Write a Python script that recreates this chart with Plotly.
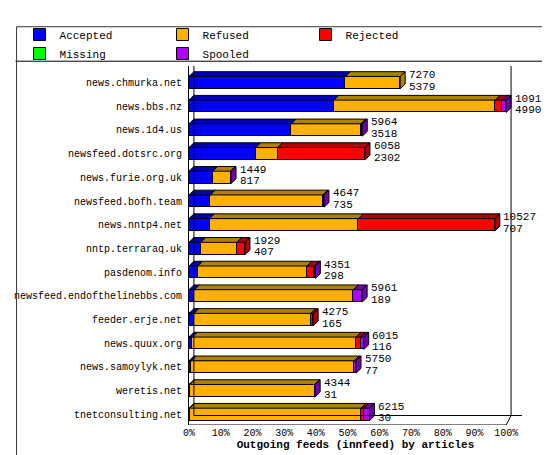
import plotly.graph_objects as go

hosts = ["news.chmurka.net", "news.bbs.nz", "news.1d4.us", "newsfeed.dotsrc.org",
         "news.furie.org.uk", "newsfeed.bofh.team", "news.nntp4.net", "nntp.terraraq.uk",
         "pasdenom.info", "newsfeed.endofthelinebbs.com", "feeder.erje.net",
         "news.quux.org", "news.samoylyk.net", "weretis.net", "tnetconsulting.net"]
accepted = [5379, 4990, 3518, 2302, 817, 735, 707, 407, 298, 189, 165, 116, 77, 31, 30]
refused = [1891, 5550, 2400, 746, 612, 3872, 5120, 1243, 3759, 5470, 4025, 5634, 5608, 4300, 5892]
rejected = [0, 240, 0, 3010, 0, 0, 4700, 279, 250, 0, 85, 160, 0, 0, 90]
missing = [0] * 15
spooled = [0, 134, 46, 0, 20, 40, 0, 0, 44, 302, 0, 105, 65, 13, 203]
totals = [7270, 10914, 5964, 6058, 1449, 4647, 10527, 1929, 4351, 5961, 4275, 6015, 5750, 4344, 6215]

series = [("Accepted", accepted, "#0000ff", "#0000b0"),
          ("Refused", refused, "#ffb000", "#b08000"),
          ("Rejected", rejected, "#ff0000", "#b00000"),
          ("Missing", missing, "#00ff00", "#00b000"),
          ("Spooled", spooled, "#b000ff", "#7000b0")]

scale = 100.0 / max(totals)
ys = list(range(len(hosts)))
H, DX, DY = 0.52, 1.55, 0.2
font = "Liberation Mono"

fig = go.Figure()
for name, vals, col, dark in series:
    fig.add_trace(go.Bar(y=ys, x=[v * scale for v in vals], name=name, orientation="h",
                         width=H, marker=dict(color=col, line=dict(color="black", width=1))))

shapes = []
ann = []
for i in ys:
    x0 = 0.0
    last = None
    top = i - H / 2
    for name, vals, col, dark in series:
        w = vals[i] * scale
        if w <= 0:
            continue
        x1 = x0 + w
        shapes.append(dict(type="path", xref="x", yref="y", fillcolor=dark,
                           line=dict(color="black", width=1),
                           path=f"M{x0},{top} L{x1},{top} L{x1+DX},{top-DY} L{x0+DX},{top-DY} Z"))
        last = (x1, dark)
        x0 = x1
    xe, dark = last
    shapes.append(dict(type="path", xref="x", yref="y", fillcolor=dark,
                       line=dict(color="black", width=1),
                       path=f"M{xe},{i+H/2} L{xe},{top} L{xe+DX},{top-DY} L{xe+DX},{i+H/2-DY} Z"))
    ann.append(dict(x=xe + DX + 0.5, y=i - 0.32, xref="x", yref="y", xanchor="left",
                    yanchor="middle", showarrow=False, text=str(totals[i]),
                    font=dict(family=font, size=11, color="black")))
    ann.append(dict(x=xe + DX + 0.5, y=i + 0.17, xref="x", yref="y", xanchor="left",
                    yanchor="middle", showarrow=False, text=str(accepted[i]),
                    font=dict(family=font, size=11, color="black")))

# back wall and floor
ymin, ymax = -0.7, len(hosts) - 0.55
shapes += [
    dict(type="line", xref="x", yref="y", x0=DX, x1=DX, y0=ymin, y1=ymax - 0.4, line=dict(color="black", width=1)),
    dict(type="line", xref="x", yref="y", x0=100 + DX, x1=100 + DX, y0=ymin, y1=ymax - 0.4, line=dict(color="black", width=1)),
    dict(type="line", xref="x", yref="y", x0=100, x1=100 + DX, y0=ymax, y1=ymax - 0.4, line=dict(color="black", width=1)),
    dict(type="line", xref="x", yref="y", x0=DX, x1=105, y0=ymax - 0.4, y1=ymax - 0.4, line=dict(color="black", width=1)),
    dict(type="line", xref="x", yref="y", x0=0, x1=100, y0=ymax, y1=ymax, line=dict(color="black", width=1)),
    dict(type="line", xref="paper", yref="paper", x0=-176 / 338, x1=1 + 36 / 338, y0=1 + 5 / 375, y1=1 + 5 / 375,
         line=dict(color="black", width=1)),
    dict(type="rect", xref="paper", yref="paper", x0=-175 / 338, x1=1 + 35 / 338, y0=-37 / 375, y1=1 + 41 / 375,
         line=dict(color="#333333", width=1)),
]

fig.update_layout(
    width=550, height=455, barmode="stack", bargap=0,
    margin=dict(l=176, r=36, t=42, b=38, pad=0),
    paper_bgcolor="white", plot_bgcolor="white",
    font=dict(family=font, size=10, color="black"),
    shapes=shapes, annotations=ann,
    legend=dict(orientation="h", x=-172 / 338, xanchor="left", y=1 + 23 / 375, yanchor="middle",
                entrywidth=98, font=dict(size=11), traceorder="normal", itemwidth=30,
                bgcolor="rgba(0,0,0,0)"),
    xaxis=dict(range=[0, 105], tickvals=list(range(0, 101, 10)), automargin=False,
               ticktext=[f"{v}%" for v in range(0, 101, 10)], showgrid=False, zeroline=False,
               ticks="", showline=False,
               title=dict(text="<b>Outgoing feeds (innfeed) by articles</b>", standoff=0, font=dict(size=11))),
    yaxis=dict(range=[ymax, ymin], tickvals=ys, ticktext=hosts, showgrid=False, zeroline=False,
               automargin=False, showline=True, linecolor="black", ticks="", ticklabelstandoff=4,
               tickfont=dict(size=10)),
)
fig.write_html("out.html")
